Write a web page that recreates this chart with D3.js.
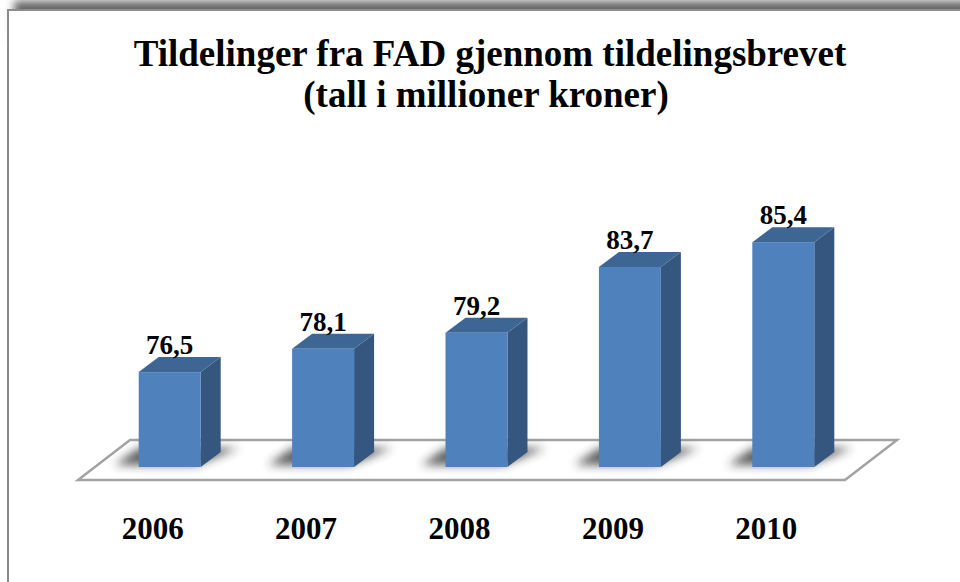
<!DOCTYPE html>
<html>
<head>
<meta charset="utf-8">
<script src="https://cdn.jsdelivr.net/npm/d3@7"></script>
<style>
  html, body { margin: 0; padding: 0; background: #fff; }
  svg { display: block; }
  text { font-family: "Liberation Serif", "Times New Roman", serif; font-weight: bold; fill: #000; }
</style>
</head>
<body>
<script>
// chart data
const years = ["2006", "2007", "2008", "2009", "2010"];
const values = [76.5, 78.1, 79.2, 83.7, 85.4];
const titleLines = ["Tildelinger fra FAD gjennom tildelingsbrevet", "(tall i millioner kroner)"];

const width = 960, height = 582;

// 3d depth of bars and floor
const depth = {dx: 20, dy: -15};
const floorDepth = {dx: 52, dy: -40};

let svg = null;
let x, y = null;

appendSvg("body");
setupScales();
appendFrame();
appendTitle();
appendFloor();
appendBars();
appendCategoryLabels();

function appendSvg(domElement) {
  svg = d3.select(domElement).append("svg")
    .attr("width", width)
    .attr("height", height);

  const defs = svg.append("defs");
  defs.append("filter").attr("id", "frameShadow")
    .attr("x", "-10%").attr("y", "-10%").attr("width", "120%").attr("height", "120%")
    .append("feGaussianBlur").attr("stdDeviation", 4);
  defs.append("filter").attr("id", "barShadow")
    .attr("x", "-50%").attr("y", "-50%").attr("width", "200%").attr("height", "200%")
    .append("feGaussianBlur").attr("stdDeviation", 5);
}

function setupScales() {
  x = d3.scaleBand()
    .domain(years)
    .range([93, 860])
    .paddingInner(0.596)
    .paddingOuter(0.298);

  y = d3.scaleLinear()
    .domain([70, 90])
    .range([467, 175]);
}

function appendFrame() {
  // soft shadow along the top of the frame
  svg.append("rect")
    .attr("x", 14).attr("y", 1)
    .attr("width", width + 40).attr("height", 40)
    .attr("fill", "#666")
    .attr("filter", "url(#frameShadow)");

  svg.append("rect")
    .attr("x", 8).attr("y", 10)
    .attr("width", width + 40).attr("height", height + 40)
    .attr("fill", "#fff")
    .attr("stroke", "#8c8c8c")
    .attr("stroke-width", 2);
}

function appendTitle() {
  svg.append("text")
    .attr("text-anchor", "middle")
    .attr("font-size", 37)
    .selectAll("tspan")
    .data(titleLines)
    .enter()
    .append("tspan")
    .attr("x", (d, i) => i === 0 ? 490 : 486)
    .attr("y", (d, i) => 66 + i * 41)
    .text(d => d);
}

function appendFloor() {
  const fy = 480;
  const fx0 = x.range()[0] - 15, fx1 = x.range()[1] - 15;
  const pts = [
    [fx0, fy], [fx1, fy],
    [fx1 + floorDepth.dx, fy + floorDepth.dy],
    [fx0 + floorDepth.dx, fy + floorDepth.dy]
  ];
  svg.append("polygon")
    .attr("points", pts.map(p => p.join(",")).join(" "))
    .attr("fill", "#fff")
    .attr("stroke", "#a3a3a3")
    .attr("stroke-width", 2.5)
    .attr("stroke-linejoin", "miter");
}

function appendBars() {
  const data = years.map((d, i) => ({year: d, value: values[i]}));
  const bw = x.bandwidth();
  const base = y(70);

  const g = svg.selectAll(".bar")
    .data(data)
    .enter()
    .append("g")
    .attr("class", "bar");

  // shadow on the floor round the foot of each bar
  g.append("polygon")
    .attr("points", d => {
      const x0 = x(d.year), x1 = x0 + bw;
      return [
        [x0 - 24, base - 2], [x1 - 4, base - 2],
        [x1 + depth.dx + 18, base + depth.dy - 4],
        [x0 + depth.dx - 20, base + depth.dy - 4]
      ].map(p => p.join(",")).join(" ");
    })
    .attr("fill", "#2b2b2b")
    .attr("opacity", 0.75)
    .attr("filter", "url(#barShadow)");

  // side face
  g.append("polygon")
    .attr("points", d => {
      const x1 = x(d.year) + bw, top = y(d.value);
      return [
        [x1, base], [x1, top],
        [x1 + depth.dx, top + depth.dy],
        [x1 + depth.dx, base + depth.dy]
      ].map(p => p.join(",")).join(" ");
    })
    .attr("fill", "#34567f");

  // top face
  g.append("polygon")
    .attr("points", d => {
      const x0 = x(d.year), x1 = x0 + bw, top = y(d.value);
      return [
        [x0, top], [x1, top],
        [x1 + depth.dx, top + depth.dy],
        [x0 + depth.dx, top + depth.dy]
      ].map(p => p.join(",")).join(" ");
    })
    .attr("fill", "#3e6695");

  // front face
  g.append("rect")
    .attr("x", d => x(d.year))
    .attr("y", d => y(d.value))
    .attr("width", bw)
    .attr("height", d => base - y(d.value))
    .attr("fill", "#4f81bd");

  // value labels
  g.append("text")
    .attr("x", d => x(d.year) + bw / 2)
    .attr("y", d => y(d.value) - 18)
    .attr("text-anchor", "middle")
    .attr("font-size", 27)
    .text(d => d.value.toFixed(1).replace(".", ","));
}

function appendCategoryLabels() {
  svg.selectAll(".cat")
    .data(years)
    .enter()
    .append("text")
    .attr("class", "cat")
    .attr("x", d => x(d) + x.bandwidth() / 2 - 17)
    .attr("y", 539)
    .attr("text-anchor", "middle")
    .attr("font-size", 31)
    .text(d => d);
}
</script>
</body>
</html>
